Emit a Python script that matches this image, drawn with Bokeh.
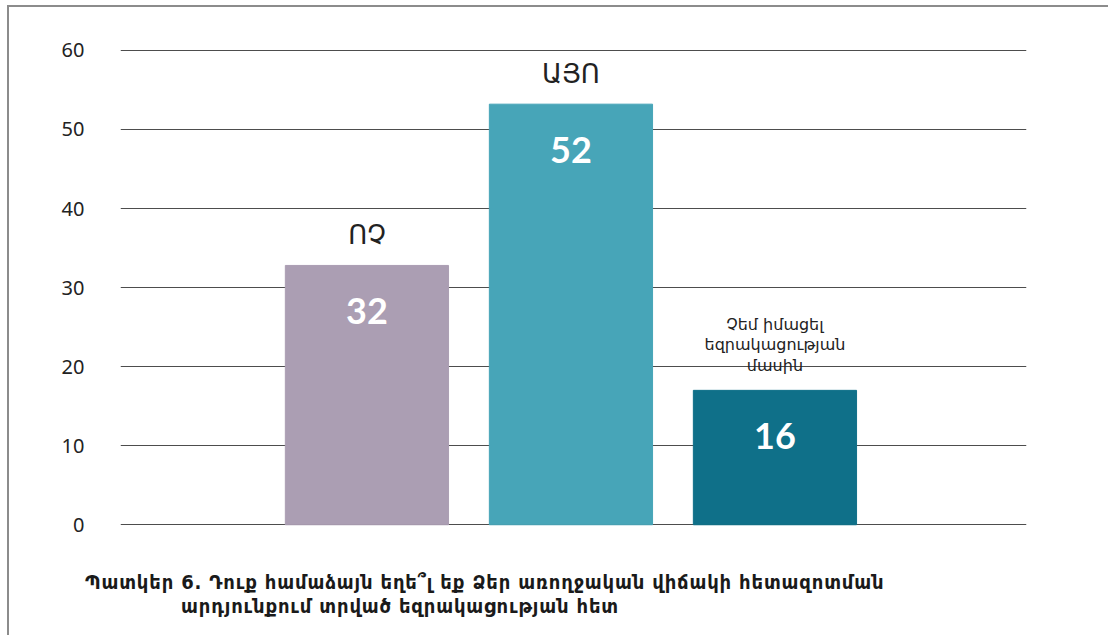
from bokeh.plotting import figure
from bokeh.models import Range1d, ColumnDataSource, FixedTicker, Div
from bokeh.layouts import column
from bokeh.core.properties import value
from bokeh.embed import file_html
from bokeh.resources import INLINE

# ---- data ----
categories = ["ՈՉ", "ԱՅՈ", "Չեմ իմացել\nեզրակացության\nմասին"]
bar_heights = [32.8, 53.2, 17.0]
bar_labels = ["32", "52", "16"]
bar_colors = ["#ab9eb3", "#47a5b8", "#0f7089"]
cat_font_sizes = ["26px", "26px", "16px"]
y_ticks = [0, 10, 20, 30, 40, 50, 60]
caption_line1 = "Պատկեր 6. Դուք համաձայն եղե՞լ եք Ձեր առողջական վիճակի հետազոտման"
caption_line2 = "արդյունքում տրված եզրակացության հետ"

positions = list(range(1, len(categories) + 1))
src = ColumnDataSource(dict(x=positions, top=bar_heights, lbl=bar_labels,
                            cat=categories, color=bar_colors, fs=cat_font_sizes))

p = figure(width=1090, height=534, output_backend="svg", toolbar_location=None,
           x_range=Range1d(-0.208, 4.233), y_range=Range1d(-0.6, 61.0),
           x_axis_location=None,
           min_border_left=111, min_border_right=73, min_border_top=35, min_border_bottom=12)
p.outline_line_color = None
p.background_fill_color = "white"
p.border_fill_color = "white"

p.vbar(x="x", top="top", bottom=0, width=0.8, color="color", source=src)

# value labels inside bars
p.text(x="x", y="top", text="lbl", source=src, text_align="center", text_baseline="middle",
       y_offset=46, text_color="white", text_font=value("Lato"), text_font_style="bold",
       text_font_size="36px")
# category labels above bars
p.text(x="x", y="top", text="cat", source=src, text_align="center", text_baseline="bottom",
       y_offset=-15, text_color="#222222", text_font=value("DejaVu Sans"),
       text_font_size="fs", text_line_height=1.1)

p.xgrid.visible = False
p.ygrid.ticker = FixedTicker(ticks=y_ticks)
p.ygrid.grid_line_color = "#4d4d4d"
p.ygrid.grid_line_width = 1
p.yaxis.ticker = FixedTicker(ticks=y_ticks)
p.yaxis.axis_line_color = None
p.yaxis.major_tick_line_color = None
p.yaxis.minor_tick_line_color = None
p.yaxis.major_label_standoff = 30
p.yaxis.major_label_text_font = "Noto Sans"
p.yaxis.major_label_text_font_size = "20px"
p.yaxis.major_label_text_color = "#222222"

caption_html = (
    f"<div style='padding-left:71px'>{caption_line1}</div>"
    f"<div style='padding-left:167px'>{caption_line2}</div>"
)
caption = Div(text=caption_html, width=1090, height=60,
              styles={"font-family": "'DejaVu Sans Condensed', 'DejaVu Sans', sans-serif",
                      "font-weight": "bold", "font-size": "20px", "line-height": "24px",
                      "letter-spacing": "0.85px",
                      "color": "#1a1a1a", "margin-top": "29px",
                      "white-space": "nowrap", "background": "white"})

layout = column(p, caption, spacing=0,
                styles={"margin-left": "7px", "margin-top": "5px",
                        "border-left": "2px solid #8c8c8c", "border-top": "2px solid #8c8c8c",
                        "background": "white"})

open("out.html", "w").write(file_html(layout, INLINE))
